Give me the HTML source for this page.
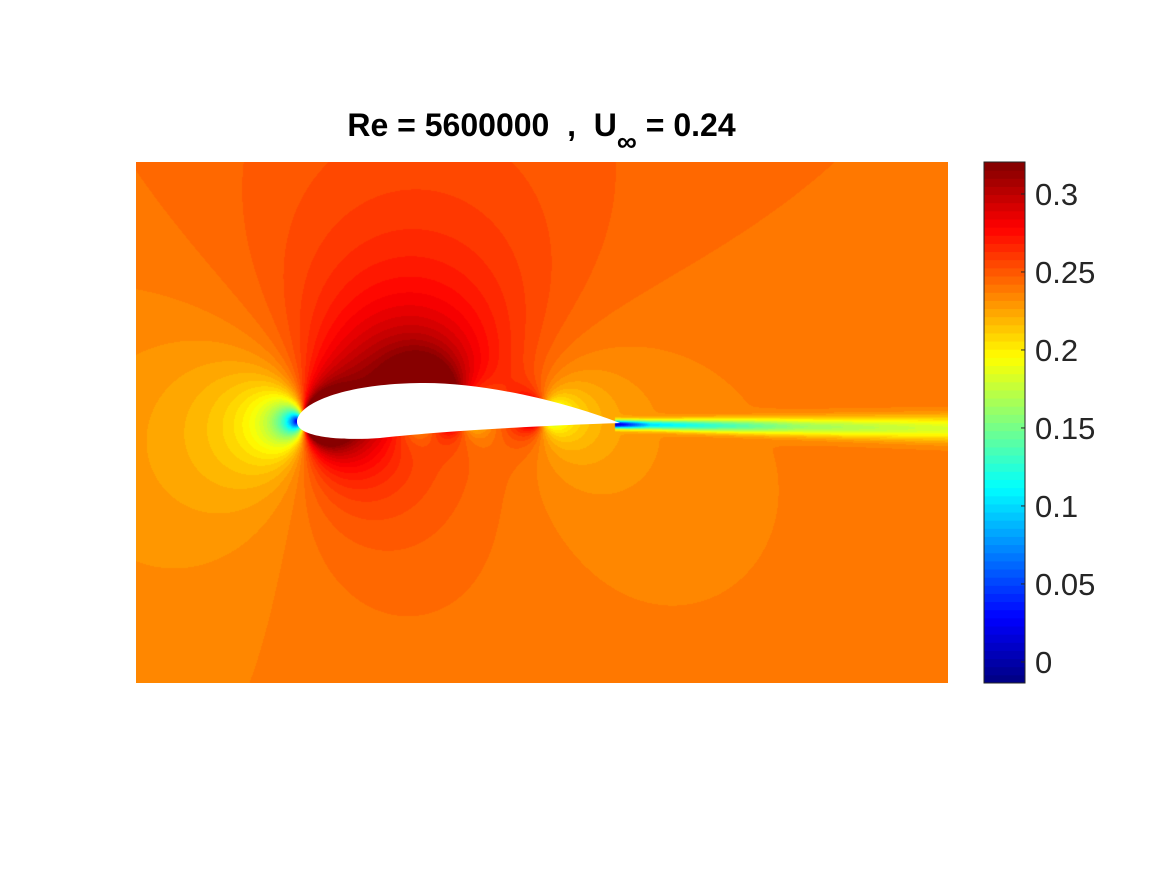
<!DOCTYPE html>
<html><head><meta charset="utf-8"><style>
body{margin:0;background:#fff;width:1167px;height:875px;position:relative;overflow:hidden;font-family:"Liberation Sans",sans-serif}
#title{position:absolute;left:0;width:1083px;top:107px;text-align:center;font-weight:bold;font-size:32px;color:#000}
canvas{position:absolute;left:136px;top:162px}
svg{position:absolute;left:0;top:0}
</style></head><body>
<div id="title">Re = 5600000 &nbsp;, &nbsp;U<sub style="font-size:28px;position:relative;top:8px">∞</sub> = 0.24</div>
<canvas id="field" width="812" height="521"></canvas>
<svg id="ov" width="1167" height="875">
<path d="M297,422 C297,405 340,384 420,383 C480,382 560,400 620,423 C560,425 450,430 380,438 C340,441 297,437 297,422 Z" fill="#fff"/>
<g id="cbar"></g>
</svg>
<script>
const cbTicks=[0,0.05,0.1,0.15,0.2,0.25,0.3];
const cbTickLabels=["0","0.05","0.1","0.15","0.2","0.25","0.3"];
const cmin=-0.0135, cmax=0.3205, nBands=64;
const Uinf=[0.24];
const sources=[[310,420,14],[460,412,-6],[540,414,-5]];
const vortex=[[420,405,8]];
const wake=[[615,0.22],[650,0.13],[800,0.075],[948,0.055]];
function jet(t){const c=v=>Math.max(0,Math.min(1,v));return [c(1.5-Math.abs(4*t-3))*255,c(1.5-Math.abs(4*t-2))*255,c(1.5-Math.abs(4*t-1))*255];}
function col(v){let t=(v-cmin)/(cmax-cmin);t=Math.max(0,Math.min(0.9999,t));t=(Math.floor(t*nBands)+0.5)/nBands;return jet(t);}
function wakeD(x){if(x<wake[0][0])return 0;for(let i=1;i<wake.length;i++){if(x<=wake[i][0]){const f=(x-wake[i-1][0])/(wake[i][0]-wake[i-1][0]);return wake[i-1][1]+f*(wake[i][1]-wake[i-1][1]);}}return wake[wake.length-1][1];}
const cv=document.getElementById('field'),ctx=cv.getContext('2d');
const img=ctx.createImageData(812,521);
for(let py=0;py<521;py++)for(let px=0;px<812;px++){
 const x=px+136,y=py+162;let u=1,v=0;
 for(const s of sources){const dx=x-s[0],dy=y-s[1],r2=dx*dx+dy*dy+1;u+=s[2]*dx/r2;v+=s[2]*dy/r2;}
 for(const g of vortex){const dx=x-g[0],dy=y-g[1],r2=dx*dx+dy*dy+1;u+=-g[2]*dy/r2;v+=g[2]*dx/r2;}
 let val=Uinf[0]*Math.sqrt(u*u+v*v);
 if(x>560){const yw=424+(x-620)*0.012,sg=2.5+0.018*Math.max(0,x-600);val-=wakeD(x)*Math.exp(-((y-yw)**2)/(2*sg*sg));}
 const c=col(val),i=(py*812+px)*4;img.data[i]=c[0];img.data[i+1]=c[1];img.data[i+2]=c[2];img.data[i+3]=255;}
ctx.putImageData(img,0,0);
const ns="http://www.w3.org/2000/svg",g=document.getElementById('cbar');
const x0=984,x1=1025,yTop=162,yBot=683;
const ys=v=>yBot-(v-cmin)/(cmax-cmin)*(yBot-yTop);
for(let b=0;b<nBands;b++){const v0=cmin+b*(cmax-cmin)/nBands,v1=v0+(cmax-cmin)/nBands;const r=document.createElementNS(ns,'rect');


const c=jet((b+0.5)/nBands);r.setAttribute('x',x0);r.setAttribute('y',ys(v1));r.setAttribute('width',x1-x0);r.setAttribute('height',ys(v0)-ys(v1)+0.5);r.setAttribute('fill',`rgb(${c[0]|0},${c[1]|0},${c[2]|0})`);g.appendChild(r);}
const fr=document.createElementNS(ns,'rect');


fr.setAttribute('x',x0);fr.setAttribute('y',yTop);fr.setAttribute('width',x1-x0);fr.setAttribute('height',yBot-yTop);fr.setAttribute('fill','none');fr.setAttribute('stroke','#262626');fr.setAttribute('stroke-width','1');g.appendChild(fr);
cbTicks.forEach((t,i)=>{const y=ys(t);const l=document.createElementNS(ns,'line');


l.setAttribute('x1',x1-4);l.setAttribute('x2',x1);l.setAttribute('y1',y);l.setAttribute('y2',y);l.setAttribute('stroke','#262626');g.appendChild(l);
const tx=document.createElementNS(ns,'text');


tx.setAttribute('x',1035);tx.setAttribute('y',y+11);tx.setAttribute('font-size','31');tx.setAttribute('fill','#262626');tx.setAttribute('font-family','Liberation Sans, sans-serif');tx.textContent=cbTickLabels[i];g.appendChild(tx);});
</script>
</body></html>
